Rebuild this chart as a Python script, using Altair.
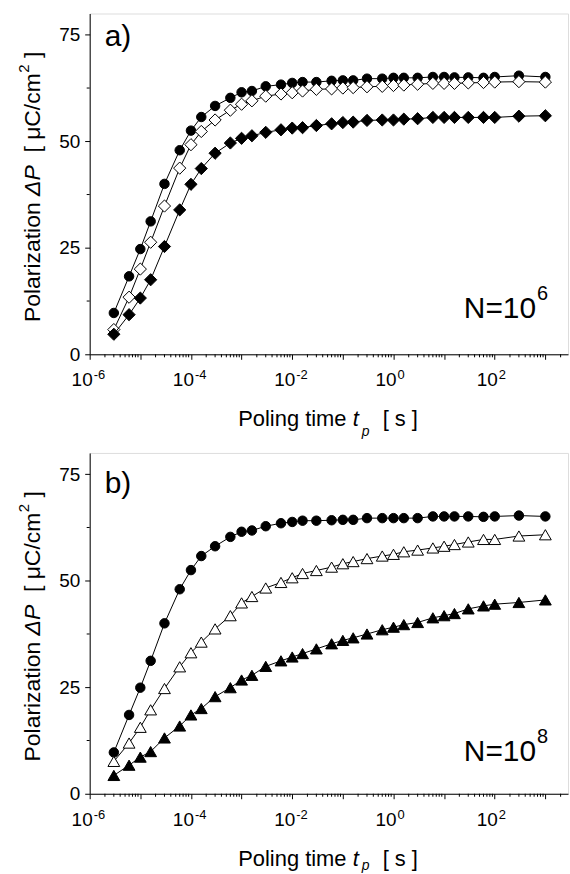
import altair as alt
import pandas as pd

FONT = "Liberation Sans"

# Poling time values (s)
t_s = [3e-6, 6e-6, 1e-5, 1.6e-5, 3e-5, 6e-5, 1e-4, 1.6e-4, 3e-4, 6e-4,
       1e-3, 1.6e-3, 3e-3, 6e-3, 1e-2, 1.6e-2, 3e-2, 6e-2, 0.1, 0.16,
       0.3, 0.6, 1, 1.6, 3, 6, 10, 16, 30, 60, 100, 300, 1000]

# Panel a) N = 10^6
a_circle = [9.7, 18.3, 24.7, 31.2, 40.0, 47.9, 52.5, 55.7, 58.3, 60.2,
            61.5, 61.8, 62.9, 63.3, 63.7, 63.9, 63.9, 64.2, 64.3, 64.3,
            64.7, 64.7, 64.9, 64.9, 64.9, 65.1, 65.1, 65.0, 65.0, 64.9,
            65.1, 65.4, 65.1]
a_open_diamond = [5.8, 13.4, 20.0, 26.3, 34.8, 43.7, 49.2, 52.3, 55.0, 57.3,
                  58.7, 59.5, 60.6, 61.1, 61.4, 61.8, 62.2, 62.3, 62.5, 62.6,
                  62.8, 62.9, 63.1, 63.2, 63.4, 63.6, 63.6, 63.6, 63.7, 63.8,
                  63.9, 64.0, 63.9]
a_filled_diamond = [4.7, 9.3, 13.2, 17.5, 25.3, 33.9, 39.9, 43.6, 47.2, 49.6,
                    50.7, 51.3, 52.1, 52.7, 53.1, 53.2, 53.7, 54.1, 54.4, 54.5,
                    54.9, 55.0, 55.0, 55.2, 55.3, 55.6, 55.6, 55.6, 55.6, 55.6,
                    55.6, 55.9, 56.0]

# Panel b) N = 10^8
b_circle = [9.7, 18.5, 24.9, 31.2, 40.0, 48.0, 52.5, 55.8, 58.1, 60.3,
            61.5, 61.8, 62.8, 63.5, 63.8, 64.1, 64.1, 64.2, 64.3, 64.3,
            64.7, 64.7, 64.7, 64.7, 64.7, 65.1, 65.1, 65.1, 65.1, 65.0,
            65.1, 65.3, 65.1]
b_open_triangle = [7.6, 11.9, 15.6, 19.7, 24.7, 29.8, 33.1, 35.6, 38.7, 41.8,
                   44.8, 46.3, 48.3, 49.6, 50.7, 51.7, 52.4, 53.2, 54.0, 54.5,
                   55.2, 55.8, 56.2, 56.8, 57.2, 57.7, 58.1, 58.5, 59.1, 59.7,
                   59.7, 60.5, 60.8]
b_filled_triangle = [4.3, 6.7, 8.6, 9.9, 13.1, 15.9, 18.5, 20.0, 22.8, 24.9,
                     26.7, 27.8, 29.9, 31.2, 32.1, 32.9, 34.0, 35.2, 36.0, 36.6,
                     37.5, 38.5, 39.1, 39.7, 40.2, 41.3, 41.8, 42.3, 43.4, 44.1,
                     44.5, 44.9, 45.5]

# Axis ticks and labels
x_major = [1e-6, 1e-5, 1e-4, 1e-3, 1e-2, 1e-1, 1, 10, 100, 1000]
x_minor = [m * 10.0 ** e for e in range(-6, 4) for m in range(2, 10) if m * 10.0 ** e <= 2800]
x_label_pos = [1e-6, 1e-4, 1e-2, 1, 100]
x_label_exp = ["-6", "-4", "-2", "0", "2"]
y_major = [0, 25, 50, 75]
y_minor = [12.5, 37.5, 62.5]

W, H = 480, 342

x_axis = alt.Axis(values=x_major, labels=False, tickSize=5, title=None, grid=False,
                  domainColor="black", tickColor="black")
y_axis = alt.Axis(values=y_major, tickSize=5, labelPadding=5, labelFont=FONT,
                  labelFontSize=19, labelColor="black", labelOverlap=False,
                  title=None, grid=False, domainColor="black", tickColor="black")

XS = alt.Scale(type="log", domain=[1e-6, 2800], nice=False)
YS = alt.Scale(domain=[0, 80], nice=False)
X = alt.X("t:Q", scale=XS, axis=x_axis)
Y = alt.Y("p:Q", scale=YS, axis=y_axis)


def series(vals, shape, fill, size):
    d = pd.DataFrame({"t": t_s, "p": vals})
    base = alt.Chart(d)
    line = base.mark_line(color="black", strokeWidth=1).encode(x=X, y=Y)
    pts = base.mark_point(shape=shape, filled=True, fill=fill, stroke="black",
                          strokeWidth=1, size=size, opacity=1).encode(x=X, y=Y)
    return [line, pts]


def txt(text, x, y, size, align="left", angle=0, style="normal"):
    return alt.Chart(pd.DataFrame({"s": [text]})).mark_text(
        font=FONT, fontSize=size, align=align, baseline="alphabetic", color="black",
        angle=angle, fontStyle=style
    ).encode(text="s:N", x=alt.value(x), y=alt.value(y))


def decorations(sub_y):
    minor_x = alt.Chart(pd.DataFrame({"t": x_minor})).mark_rule(
        color="black", strokeWidth=1).encode(x=X, y=alt.value(H), y2=alt.value(H + 3))
    minor_y = alt.Chart(pd.DataFrame({"p": y_minor})).mark_rule(
        color="black", strokeWidth=1).encode(y=Y, x=alt.value(0), x2=alt.value(-3))
    lab_df = pd.DataFrame({"t": x_label_pos, "base": ["10"] * len(x_label_pos),
                           "e": x_label_exp})
    lab_base = alt.Chart(lab_df).mark_text(
        font=FONT, fontSize=19, align="right", baseline="alphabetic", color="black", dx=3
    ).encode(x=X, y=alt.value(H + 32), text="base:N")
    lab_exp = alt.Chart(lab_df).mark_text(
        font=FONT, fontSize=13, align="left", baseline="alphabetic", color="black", dx=4
    ).encode(x=X, y=alt.value(H + 25), text="e:N")
    # x title: Poling time t_p [ s ]
    xt = [txt("Poling time", 149, H + 72, 22),
          txt("t", 264, H + 72, 22, style="italic"),
          txt("p", 273, sub_y, 14, style="italic"),
          txt("[ s ]", 294, H + 72, 22)]
    # y title: Polarization ΔP [ μC/cm² ] (rotated)
    S = 309.6
    yt = [txt("Polarization", -50, S, 23, angle=270),
          txt("\u0394P", -50, S - 126.5, 23, angle=270, style="italic"),
          txt("[ \u03bcC/cm", -50, S - 170.0, 23, angle=270),
          txt("2", -61, S - 250.2, 15, angle=270),
          txt("]", -50, S - 264.9, 23, angle=270)]
    return [minor_x, minor_y, lab_base, lab_exp] + xt + yt


def panel(layers, tag, tag_y, n_exp, n_y, sub_y):
    parts = decorations(sub_y)
    for l in layers:
        parts += l
    parts += [txt(tag, 15, tag_y, 30),
              txt("N=10", 448, n_y, 30, align="right"),
              txt(n_exp, 449, n_y - 18, 20)]
    return alt.layer(*parts).properties(width=W, height=H)


pa = panel([series(a_circle, "circle", "black", 90),
            series(a_open_diamond, "diamond", "white", 150),
            series(a_filled_diamond, "diamond", "black", 150)],
           "a)", 33, "6", 306, H + 82)
pb = panel([series(b_circle, "circle", "black", 90),
            series(b_open_triangle, "triangle-up", "white", 140),
            series(b_filled_triangle, "triangle-up", "black", 140)],
           "b)", 40, "8", 309, H + 77)

chart = alt.vconcat(pa, pb, spacing=99, bounds="flush").properties(
    padding={"left": 16, "top": 11, "right": 1, "bottom": 0}
).configure_view(stroke="black", strokeWidth=1).configure(background="white")

chart.save("out.html", embed_options={"renderer": "svg", "actions": False})
